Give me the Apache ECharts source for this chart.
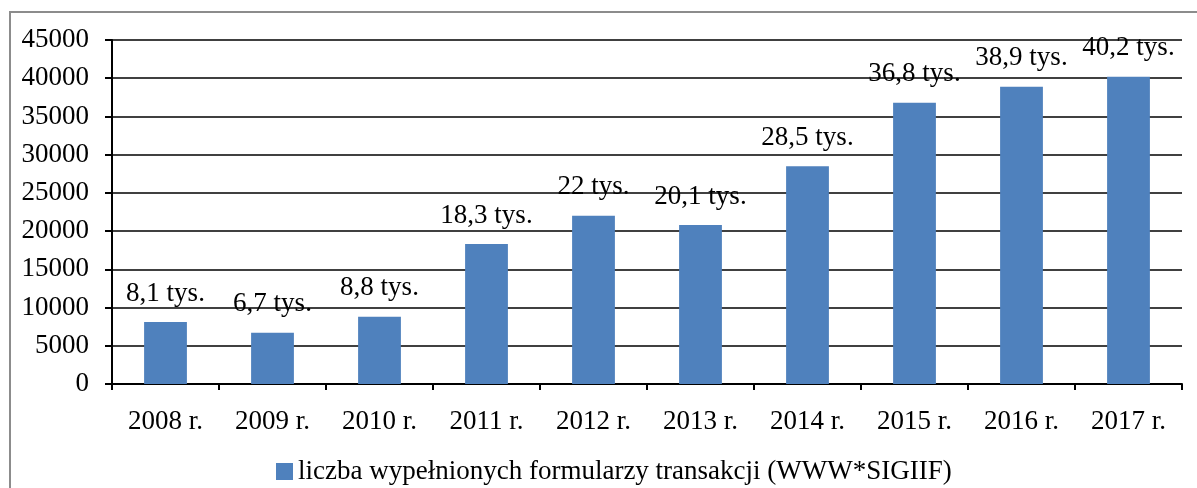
<!DOCTYPE html>
<html>
<head>
<meta charset="utf-8">
<script src="https://cdn.jsdelivr.net/npm/echarts@6/dist/echarts.min.js"></script>
<style>
html,body{margin:0;padding:0;background:#fff;}
#chart{width:1197px;height:488px;}
</style>
</head>
<body>
<div id="chart"></div>
<script>
const categories = ['2008 r.', '2009 r.', '2010 r.', '2011 r.', '2012 r.', '2013 r.', '2014 r.', '2015 r.', '2016 r.', '2017 r.'];
const values = [8100, 6700, 8800, 18300, 22000, 20800, 28500, 36800, 38900, 40200];
const labelTexts = ['8,1 tys.', '6,7 tys.', '8,8 tys.', '18,3 tys.', '22 tys.', '20,1 tys.', '28,5 tys.', '36,8 tys.', '38,9 tys.', '40,2 tys.'];
const seriesName = 'liczba wypełnionych formularzy transakcji (WWW*SIGIIF)';
const yTicks = { min: 0, max: 45000, interval: 5000 };

const FONT = '"Liberation Serif", "Times New Roman", serif';
const chart = echarts.init(document.getElementById('chart'), null, { renderer: 'canvas' });

chart.setOption({
  animation: false,
  backgroundColor: '#ffffff',
  graphic: [{
    type: 'rect',
    shape: { x: 10, y: 12, width: 1200, height: 490 },
    style: { fill: 'none', stroke: '#8c8c8c', lineWidth: 2 },
    silent: true
  }],
  grid: { left: 112, right: 15, top: 40, bottom: 104, containLabel: false },
  legend: {
    data: [seriesName],
    left: 271,
    top: 453,
    icon: 'rect',
    itemWidth: 17,
    itemHeight: 17,
    itemGap: 5,
    textStyle: { fontFamily: FONT, fontSize: 27, color: '#000' }
  },
  xAxis: {
    type: 'category',
    data: categories,
    axisLine: { show: true, lineStyle: { color: '#000', width: 2 } },
    axisTick: { show: true, alignWithLabel: false, length: 6, lineStyle: { color: '#000', width: 2 } },
    axisLabel: { fontFamily: FONT, fontSize: 27, color: '#000', margin: 24 },
    splitLine: { show: false }
  },
  yAxis: {
    type: 'value',
    min: yTicks.min,
    max: yTicks.max,
    interval: yTicks.interval,
    axisLine: { show: true, lineStyle: { color: '#000', width: 2 } },
    axisTick: { show: true, inside: false, length: 7, lineStyle: { color: '#000', width: 2 } },
    axisLabel: { fontFamily: FONT, fontSize: 27, color: '#000', margin: 23, formatter: v => String(v) },
    splitLine: { show: true, lineStyle: { color: '#000', width: 1.5 } }
  },
  series: [{
    name: seriesName,
    type: 'bar',
    data: values,
    barCategoryGap: '60%',
    itemStyle: { color: '#4F81BD' },
    label: {
      show: true,
      position: 'top',
      distance: 15,
      fontFamily: FONT,
      fontSize: 27,
      color: '#000',
      formatter: p => labelTexts[p.dataIndex]
    }
  }]
});
</script>
</body>
</html>
